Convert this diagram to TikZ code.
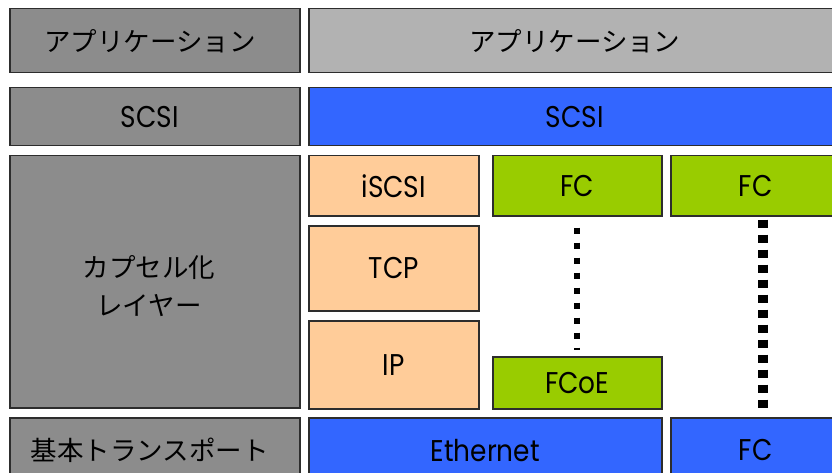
\documentclass[tikz,border=0pt]{standalone}
\usepackage{fontspec}
\setmainfont{Poppins}[FakeStretch=0.88]
\newfontfamily\jp{Noto Sans CJK JP}
\definecolor{boxgray}{RGB}{140,140,140}
\definecolor{lightgray2}{RGB}{178,178,178}
\definecolor{layerblue}{RGB}{51,102,255}
\definecolor{peach}{RGB}{255,204,153}
\definecolor{fcgreen}{RGB}{153,204,0}
\definecolor{edge}{RGB}{45,45,45}
\begin{document}
\begin{tikzpicture}[x=1pt,y=-1pt,
  layerbox/.style={draw=edge,line width=1.5pt,inner sep=0pt,anchor=north west,
    font=\fontsize{30}{33}\selectfont},
  jptext/.style={font=\jp\fontsize{26.5}{38}\selectfont},
  leftbox/.style={layerbox,fill=boxgray},
  shiftleft/.style={execute at begin node=\hspace*{-10pt}},
  dotsmall/.style={line width=6pt,dash pattern=on 6pt off 9pt},
  dotbig/.style={line width=10pt,dash pattern=on 8pt off 7pt}]
\clip (0,0) rectangle (832,473);
\useasboundingbox (0,0) rectangle (832,473);
\fill[white] (0,0) rectangle (832,473);
% left column
\node[leftbox,jptext,shiftleft,minimum width=290pt,minimum height=64pt] (appL) at (9,8) {アプリケーション};
\node[leftbox,shiftleft,minimum width=290pt,minimum height=58pt] (scsiL) at (9,87) {SCSI};
\node[leftbox,minimum width=290pt,minimum height=252pt] (capsL) at (9,155) {};
\node[jptext,align=center,inner sep=0pt] (capsT) at (149,286) {カプセル化\\レイヤー};
\node[leftbox,jptext,shiftleft,minimum width=290pt,minimum height=65pt] (baseL) at (9,417) {基本トランスポート};
% right column
\node[layerbox,jptext,fill=lightgray2,minimum width=532pt,minimum height=64pt] (appR) at (308,8) {アプリケーション};
\node[layerbox,fill=layerblue,minimum width=532pt,minimum height=58pt] (scsiR) at (308,87) {SCSI};
\node[layerbox,fill=peach,minimum width=170pt,minimum height=60pt] (iscsi) at (308,155) {iSCSI};
\node[layerbox,fill=peach,minimum width=170pt,minimum height=85pt] (tcp) at (308,225) {TCP};
\node[layerbox,fill=peach,minimum width=170pt,minimum height=88pt] (ip) at (308,320) {IP};
\node[layerbox,fill=fcgreen,minimum width=169pt,minimum height=60pt] (fc1) at (492,155) {FC};
\node[layerbox,fill=fcgreen,minimum width=170pt,minimum height=60pt] (fc2) at (670,155) {FC};
\node[layerbox,fill=fcgreen,minimum width=169pt,minimum height=52pt] (fcoe) at (492,356) {FCoE};
\node[layerbox,fill=layerblue,minimum width=353pt,minimum height=65pt] (eth) at (308,417) {Ethernet};
\node[layerbox,fill=layerblue,minimum width=170pt,minimum height=65pt] (fcb) at (670,417) {FC};
% dotted connectors
\draw[dotsmall] ([yshift=-11pt]fc1.south) -- ([yshift=6pt]fcoe.north);
\draw[dotbig] ([xshift=7pt,yshift=-3pt]fc2.south) -- ([xshift=7pt,yshift=7pt]fcb.north);
\end{tikzpicture}
\end{document}
